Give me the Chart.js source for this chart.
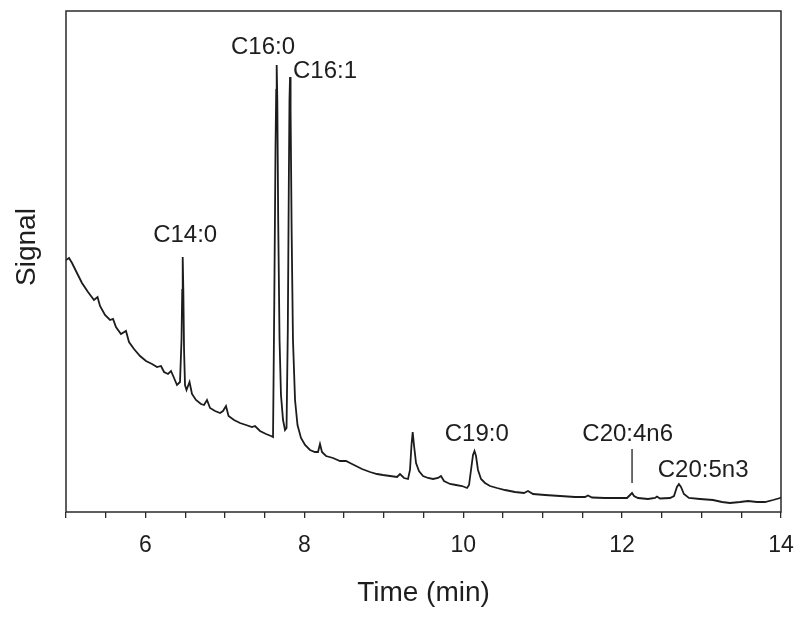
<!DOCTYPE html>
<html>
<head>
<meta charset="utf-8">
<script src="https://cdn.jsdelivr.net/npm/chart.js@4/dist/chart.umd.min.js"></script>
<style>
  html, body { margin: 0; padding: 0; background: #fff; }
  #wrap { width: 800px; height: 619px; }
</style>
</head>
<body>
<div id="wrap"><canvas id="grafico"></canvas></div>
<script>
const tempos = [
  5.000, 5.038, 5.076, 5.138, 5.201, 5.277, 5.352, 5.397, 5.428, 5.491,
  5.554, 5.592, 5.629, 5.692, 5.755, 5.793, 5.856, 5.932, 6.007, 6.083,
  6.146, 6.196, 6.234, 6.284, 6.322, 6.360, 6.397, 6.435, 6.454, 6.463,
  6.469, 6.477, 6.486, 6.498, 6.517, 6.555, 6.586, 6.636, 6.699, 6.737,
  6.775, 6.813, 6.876, 6.939, 6.976, 7.014, 7.046, 7.115, 7.190, 7.266,
  7.341, 7.379, 7.442, 7.518, 7.581, 7.606, 7.622, 7.637, 7.646, 7.652,
  7.660, 7.671, 7.688, 7.706, 7.732, 7.757, 7.776, 7.792, 7.805, 7.813,
  7.820, 7.827, 7.840, 7.857, 7.883, 7.914, 7.958, 8.009, 8.071, 8.134,
  8.172, 8.197, 8.222, 8.273, 8.361, 8.449, 8.525, 8.575, 8.651, 8.726,
  8.827, 8.915, 8.990, 9.079, 9.167, 9.204, 9.255, 9.305, 9.330, 9.349,
  9.364, 9.380, 9.406, 9.443, 9.494, 9.557, 9.620, 9.683, 9.720, 9.758,
  9.834, 9.909, 9.985, 10.048, 10.073, 10.098, 10.123, 10.142, 10.161, 10.186,
  10.224, 10.274, 10.337, 10.425, 10.526, 10.652, 10.765, 10.815, 10.879, 11.030,
  11.219, 11.407, 11.533, 11.570, 11.621, 11.785, 11.974, 12.062, 12.100, 12.125,
  12.150, 12.200, 12.326, 12.414, 12.439, 12.477, 12.603, 12.653, 12.690, 12.715,
  12.741, 12.778, 12.841, 12.980, 13.144, 13.258, 13.358, 13.484, 13.585, 13.698,
  13.799, 13.900, 13.988, 14.000
];
const sinal = [
  252, 254, 249, 239, 229, 220, 212, 215, 206, 197,
  192, 193, 185, 178, 181, 170, 163, 156, 151, 148,
  145, 146, 140, 138, 141, 134, 127, 130, 172, 222,
  255, 222, 162, 127, 122, 130, 118, 112, 108, 107,
  112, 104, 101, 99, 101, 106, 96, 92, 89, 87,
  85, 86, 81, 78, 76, 75, 212, 362, 422, 447,
  412, 292, 172, 117, 92, 82, 84, 182, 332, 412,
  435, 402, 282, 172, 112, 87, 74, 67, 62, 60,
  60, 68, 60, 56, 54, 51, 51, 49, 46, 43,
  40, 38, 37, 36, 35, 38, 34, 33, 42, 67,
  80, 67, 49, 41, 36, 34, 33, 34, 36, 31,
  28, 27, 26, 24, 27, 42, 57, 61, 56, 42,
  33, 29, 26, 24, 22, 20, 19, 21, 18, 17,
  16, 15, 15, 16.5, 14.5, 14, 14, 14, 17, 19,
  16, 14, 13, 14, 15.5, 13.5, 14, 16, 25, 28,
  25, 18, 14, 13, 12, 10, 9, 10, 11, 10,
  10, 12, 14, 15
];

// Rótulos dos picos (ácidos graxos) e onde ficam no gráfico
const picos = ["C14:0", "C16:0", "C16:1", "C19:0", "C20:4n6", "C20:5n3"];
const picosTempo = [6.50, 7.48, 8.26, 10.17, 12.07, 13.02];
const picosSinal = [277, 465, 441, 78, 78, 42];
// traço vertical do C20:4n6
const marcaTempo = 12.125;
const marcaSinal = [63, 29];

const corTexto = "#1e1e1e";
const fonte = "'Liberation Sans', Arial, sans-serif";

const rotulosPicos = {
  id: "rotulosPicos",
  afterDatasetsDraw(chart) {
    const { ctx, chartArea, scales: { x, y } } = chart;
    ctx.save();
    // moldura
    ctx.strokeStyle = "#2a2a2a";
    ctx.lineWidth = 1.5;
    ctx.strokeRect(chartArea.left, chartArea.top, chartArea.right - chartArea.left, chartArea.bottom - chartArea.top);

    ctx.fillStyle = corTexto;
    ctx.font = "24px " + fonte;
    ctx.textAlign = "center";
    ctx.textBaseline = "middle";
    picos.forEach((nome, i) => {
      ctx.fillText(nome, x.getPixelForValue(picosTempo[i]), y.getPixelForValue(picosSinal[i]));
    });

    ctx.strokeStyle = corTexto;
    ctx.lineWidth = 1.3;
    ctx.beginPath();
    ctx.moveTo(x.getPixelForValue(marcaTempo), y.getPixelForValue(marcaSinal[0]));
    ctx.lineTo(x.getPixelForValue(marcaTempo), y.getPixelForValue(marcaSinal[1]));
    ctx.stroke();

    // título do eixo y (um pouco acima do centro, como no original)
    ctx.font = "28px " + fonte;
    ctx.translate(27, 247);
    ctx.rotate(-Math.PI / 2);
    ctx.fillText("Signal", 0, 0);
    ctx.restore();
  }
};

const ctx = document.getElementById("grafico").getContext("2d");

new Chart(ctx, {
  type: "line",
  data: {
    datasets: [{
      data: tempos.map((t, i) => ({ x: t, y: sinal[i] })),
      borderColor: "#1c1c1c",
      borderWidth: 1.8,
      pointRadius: 0,
      tension: 0
    }]
  },
  options: {
    responsive: true,
    maintainAspectRatio: false,
    animation: false,
    layout: { padding: { top: 11, right: 19, left: 0, bottom: 0 } },
    plugins: { legend: { display: false }, tooltip: { enabled: false } },
    scales: {
      x: {
        type: "linear",
        min: 5,
        max: 14,
        afterFit: s => { s.height = 107; s.paddingLeft = 0; s.paddingRight = 0; },
        border: { display: false },
        grid: { drawOnChartArea: false, drawTicks: true, tickLength: 6, color: "#2a2a2a", lineWidth: 1.3 },
        ticks: {
          stepSize: 0.5,
          autoSkip: false,
          maxRotation: 0,
          padding: 14,
          color: corTexto,
          font: { family: fonte, size: 23 },
          callback: v => (v % 2 === 0 ? String(v) : "")
        },
        title: {
          display: true,
          text: "Time (min)",
          color: corTexto,
          font: { family: fonte, size: 28 },
          padding: { top: 0, bottom: 9 }
        }
      },
      y: {
        min: 0,
        max: 501,
        afterFit: s => { s.width = 66; },
        border: { display: false },
        grid: { display: false },
        ticks: { display: false },
        title: { display: false }
      }
    }
  },
  plugins: [rotulosPicos]
});
</script>
</body>
</html>
